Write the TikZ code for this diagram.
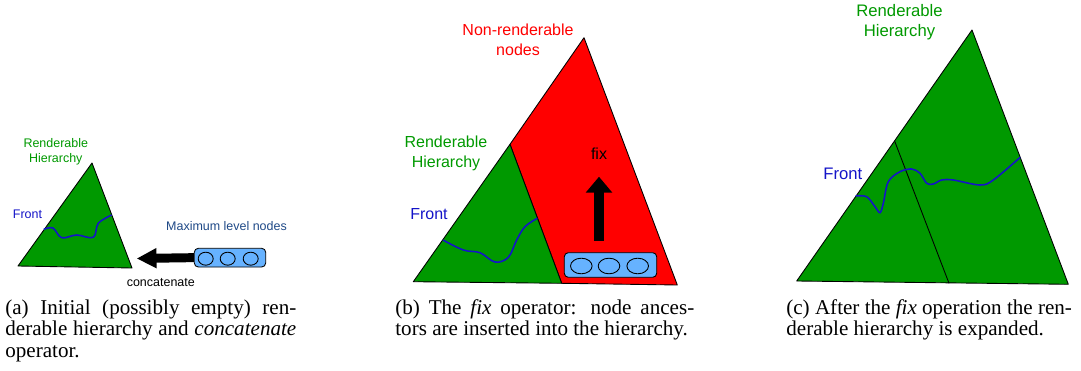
\documentclass[tikz,border=0pt]{standalone}
\usepackage{fontspec}
\setmainfont{Liberation Serif}
\setsansfont{Liberation Sans}
\usetikzlibrary{arrows.meta,shapes.geometric,fit}
\definecolor{hgreen}{RGB}{0,153,0}
\definecolor{hred}{RGB}{255,0,0}
\definecolor{frontblue}{RGB}{20,20,200}
\definecolor{cellblue}{RGB}{102,178,255}
\definecolor{lvlnavy}{RGB}{31,73,135}
% one justified caption line of a given width
\newcommand\capline[2]{\hbox to #1{#2}}

\begin{document}
\begin{tikzpicture}[x=0.02cm,y=-0.02cm,
  tri/.style={draw=black, line width=0.5pt, line join=round},
  frontline/.style={draw=frontblue, line width=0.9pt},
  lbl/.style={font=\sffamily, inner sep=0pt, align=center},
  lvlbox/.style={draw=black, fill=cellblue, rounded corners=2.3pt, inner sep=0pt, line width=0.5pt},
  cell/.style={ellipse, draw=black, line width=0.5pt, inner sep=0pt},
  capt/.style={anchor=base west, inner sep=0pt, font=\fontsize{12}{12.5}\selectfont}
]
\useasboundingbox (0,0) rectangle (1081,371);

% ---------- (a) initial hierarchy and concatenate ----------
\filldraw[tri, fill=hgreen] (18,266) -- (92,163) -- (132,268) -- cycle;
\draw[frontline] plot[smooth, tension=0.6] coordinates
  {(43.8,229.3) (53,228) (61.7,237.7) (76.7,235) (93.3,237.3) (98.3,223.3) (111.7,215)};
\node[lbl, text=hgreen, font=\sffamily\fontsize{7.1}{8.5}\selectfont] (rhA) at (55.8,152) {Renderable\\Hierarchy};
\node[lbl, text=frontblue, font=\sffamily\fontsize{7.1}{8.5}\selectfont] (frontA) at (27.5,214.3) {Front};
\node[lbl, text=lvlnavy, font=\sffamily\fontsize{7.1}{8.5}\selectfont] (maxA) at (226.5,226) {Maximum level nodes};
\node[lbl, font=\sffamily\fontsize{7.1}{8.5}\selectfont] (catA) at (160.8,282.3) {concatenate};

\node[lvlbox, fit={(194.3,248.3) (265.7,267)}] (boxA) {};
\node[cell, minimum width=0.3cm, minimum height=0.26cm] (a1) at (205.7,258.7) {};
\node[cell, minimum width=0.3cm, minimum height=0.26cm] (a2) at (227.7,258.7) {};
\node[cell, minimum width=0.3cm, minimum height=0.26cm] (a3) at (250.7,258.7) {};
\coordinate (tipA) at (136.7,258.5);
\draw[line width=5.1pt, -{Triangle[length=11.3pt, width=10.8pt]}] (boxA.west) -- (tipA);

% ---------- (b) fix operator ----------
\filldraw[tri, fill=hred] (510,144.3) -- (584,37.7) -- (677.3,285) -- (561.7,283.3) -- cycle;
\filldraw[tri, fill=hgreen] (413.3,281.7) -- (510,144.3) -- (561.7,283.3) -- cycle;
\draw[frontline] plot[smooth, tension=0.6] coordinates
  {(443,240) (463.3,250) (480,252.7) (495,262) (508.3,257.3) (516.7,240) (525,226.7) (537.3,218.3)};
\node[lbl, text=hred, font=\sffamily\fontsize{9.1}{11.3}\selectfont] (nrB) at (518,39.5) {Non-renderable\\nodes};
\node[lbl, text=hgreen, font=\sffamily\fontsize{9.1}{11.3}\selectfont] (rhB) at (446,153.5) {Renderable\\Hierarchy};
\node[lbl, text=frontblue, font=\sffamily\fontsize{9.1}{11.3}\selectfont] (frontB) at (429,214.3) {Front};
\node[lbl, font=\sffamily\fontsize{9.1}{11.3}\selectfont] (fixB) at (599,154) {fix};

\node[lvlbox, fit={(564.3,252.7) (656.7,277.3)}] (boxB) {};
\node[cell, minimum width=0.432cm, minimum height=0.312cm] (b1) at (581.3,266) {};
\node[cell, minimum width=0.432cm, minimum height=0.312cm] (b2) at (609,266) {};
\node[cell, minimum width=0.432cm, minimum height=0.312cm] (b3) at (637.7,266) {};
\coordinate (fixFoot) at (599,240.7);
\coordinate (fixTip) at (599,176.7);
\draw[line width=5.3pt, -{Triangle[length=9.1pt, width=14.6pt]}] (fixFoot) -- (fixTip);

% ---------- (c) expanded hierarchy ----------
\filldraw[tri, fill=hgreen] (796.7,281) -- (972,30) -- (1068.3,284.3) -- cycle;
\draw[line width=0.5pt] (894.6,141) -- (949,283.3);
\draw[frontline] plot[smooth, tension=0.55] coordinates
  {(855.7,196) (866.7,196.7) (875,206.7) (880,212.7) (883.3,203.3) (888.3,181.7) (900,171.7)
   (911.7,169) (920,173.3) (926.7,183.3) (933.3,184) (941.7,180) (953.3,180) (980,185)
   (993.3,180) (1020.2,157.3)};
\node[lbl, text=hgreen, font=\sffamily\fontsize{9.5}{11.7}\selectfont] (rhC) at (899.5,22) {Renderable\\Hierarchy};
\node[lbl, text=frontblue, font=\sffamily\fontsize{9.5}{11.7}\selectfont] (frontC) at (842.8,174) {Front};

% ---------- captions ----------
\node[capt] (capA) at (5,314) {\vtop{%
  \capline{5.82cm}{(a) Initial (possibly empty) ren-}
  \capline{5.82cm}{derable hierarchy and \textit{concatenate}}
  \hbox{operator.}}};
\node[capt] (capB) at (395,314) {\vtop{%
  \capline{5.98cm}{(b) The \textit{fix} operator: node ances-}
  \hbox{tors are inserted into the hierarchy.}}};
\node[capt] (capC) at (786,314) {\vtop{%
  \capline{5.714cm}{(c) After the \textit{fix} operation the ren-}
  \hbox{derable hierarchy is expanded.}}};
\end{tikzpicture}
\end{document}
